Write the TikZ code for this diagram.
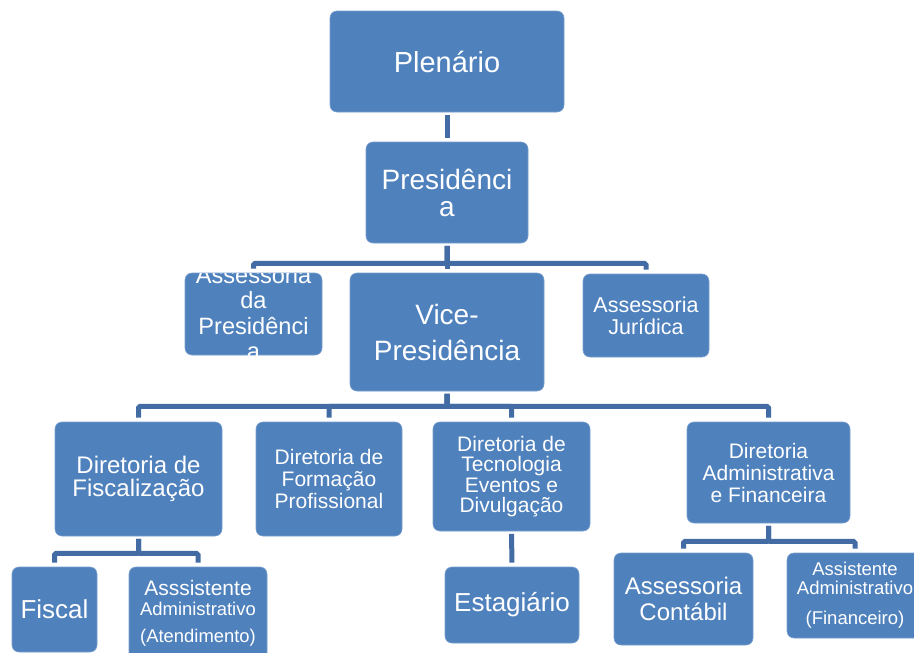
\documentclass[tikz,border=0pt]{standalone}
\usepackage{fontspec}
\setmainfont{Liberation Sans}
\definecolor{boxblue}{RGB}{79,129,189}
\definecolor{boxedge}{RGB}{120,158,205}
\definecolor{connblue}{RGB}{66,108,163}
\tikzset{
  orgbox/.style={rectangle, rounded corners=7pt, fill=boxblue, draw=boxedge, line width=0.6pt, text=white, align=center, inner sep=0pt},
  plaintxt/.style={text=white, align=center, inner sep=0pt},
  conn/.style={draw=connblue, line width=5pt, rounded corners=1.5pt, shorten <=2.5pt, shorten >=4pt},
  fs/.style 2 args={font=\fontsize{#1}{#2}\selectfont}
}
\begin{document}
\begin{tikzpicture}[x=1pt,y=-1pt]
\clip (0,0) rectangle (914,653);
\fill[white] (0,0) rectangle (914,653);

\node[orgbox, minimum width=234pt, minimum height=101pt, fs={29}{30}] (plen) at (447,61.5) {Plenário};
\node[orgbox, minimum width=162pt, minimum height=101pt, fs={28}{27}] (pres) at (447,192.5) {Presidênci\\a};
\node[orgbox, minimum width=137pt, minimum height=82pt] (ap) at (253.5,314) {};
\begin{scope}
  \clip[rounded corners=7pt] (ap.south west) rectangle (ap.north east);
  \node[plaintxt, fs={23.6}{25.5}] (aptext) at (253.5,313) {Assessoria\\da\\Presidênci\\a};
\end{scope}
\node[orgbox, minimum width=194pt, minimum height=118pt, fs={28}{36}] (vice) at (447,332) {Vice-\\Presidência};
\node[orgbox, minimum width=126pt, minimum height=83pt, fs={21.5}{22}] (aj) at (646,315.5) {Assessoria\\Jurídica};

\node[orgbox, minimum width=167pt, minimum height=114pt, fs={24}{23.5}] (df) at (138.5,479) {Diretoria de\\Fiscalização};
\node[orgbox, minimum width=146pt, minimum height=114pt, fs={21}{22}] (dfp) at (329,479) {Diretoria de\\Formação\\Profissional};
\node[orgbox, minimum width=157pt, minimum height=109pt, fs={21}{20.5}] (dt) at (511.5,476.5) {Diretoria de\\Tecnologia\\Eventos e\\Divulgação};
\node[orgbox, minimum width=163pt, minimum height=101pt, fs={21}{22}] (da) at (768.5,472.5) {Diretoria\\Administrativa\\e Financeira};

\node[orgbox, minimum width=85pt, minimum height=85pt, fs={26}{27}] (fisc) at (54.5,609.5) {Fiscal};
\node[orgbox, minimum width=138pt, minimum height=93pt, fs={18.4}{20}] (aa) at (198,613.5) {{\fontsize{21}{20}\selectfont Asssistente}\\Administrativo\\[7pt](Atendimento)};
\node[orgbox, minimum width=134pt, minimum height=76pt, fs={26}{27}] (est) at (512,605) {Estagiário};
\node[orgbox, minimum width=139pt, minimum height=92pt, fs={24}{26}] (ac) at (683.5,599) {Assessoria\\Contábil};
\node[orgbox, minimum width=136pt, minimum height=85pt, fs={18.5}{19}] (af) at (855,595.5) {Assistente\\Administrativo\\[11pt](Financeiro)};

\draw[conn] (plen.south) -- (pres.north);
\draw[conn] (pres.south) -- ++(0,20) -| (ap.north);
\draw[conn] (pres.south) -- (vice.north);
\draw[conn] (pres.south) -- ++(0,20) -| (aj.north);

\draw[conn] (vice.south) -- ++(0,15) -| (df.north);
\draw[conn] (vice.south) -- ++(0,15) -| (dfp.north);
\draw[conn] (vice.south) -- ++(0,15) -| (dt.north);
\draw[conn] (vice.south) -- ++(0,15) -| (da.north);

\draw[conn] (df.south) -- ++(0,17) -| (fisc.north);
\draw[conn] (df.south) -- ++(0,17) -| (aa.north);
\draw[conn] (dt.south) -- (est.north);
\draw[conn] (da.south) -- ++(0,18) -| (ac.north);
\draw[conn] (da.south) -- ++(0,18) -| (af.north);
\end{tikzpicture}
\end{document}
